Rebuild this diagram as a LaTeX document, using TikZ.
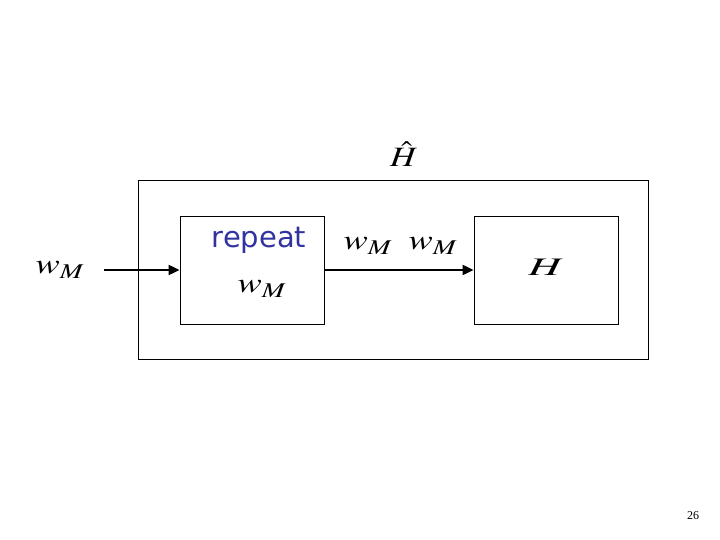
\documentclass[tikz,border=0pt]{standalone}
\usepackage{mathptmx}
\usepackage{graphicx}
\usepackage{fontspec}
\setmainfont{Liberation Serif}
\newfontfamily\repeatfont{DejaVu Sans}
\usetikzlibrary{arrows.meta, positioning}
\definecolor{repeatblue}{RGB}{51,51,160}
\DeclareMathSizes{28}{28}{21}{16}
\newcommand{\wsig}{\scalebox{1.3}[1]{$w_M$}}

\begin{document}
\begin{tikzpicture}[x=1pt, y=-1pt, font=\fontsize{28}{32}\selectfont,
    block/.style={draw, line width=0.8pt, minimum width=144pt, minimum height=108pt, inner sep=0pt},
    flow/.style={line width=2pt, -{Triangle[length=11pt, width=10pt]}}]
  \useasboundingbox (0,0) rectangle (720,540);
  % outer system
  \node[draw, line width=0.8pt, minimum width=510pt, minimum height=179pt] (outer) at (393,269.5) {};
  \node (hhat) at (404,154) {\scalebox{1.25}[1]{$\hat{H}$}};
  % inner blocks
  \node[block] (rep) at (252,270) {};
  \node[block] (sys) at (546,270) {};
  \node (hlab) at (546,267) {\scalebox{1.6}[0.9]{$H$}};
  \node[font=\repeatfont\fontsize{29}{32}\selectfont, text=repeatblue] (reptxt) at (259,240) {repeat};
  \node (repw) at (262,289) {\wsig};
  % input and links
  \node (win) at (60,270) {\wsig};
  \coordinate (in) at (104,270);
  \node (w1) at (368,246) {\wsig};
  \node (w2) at (433,246) {\wsig};
  \draw[flow] (in) -- (rep);
  \draw[flow] (rep) -- (sys);
  \node[font=\fontsize{12}{14}\selectfont] (page) at (693,516) {26};
\end{tikzpicture}
\end{document}
